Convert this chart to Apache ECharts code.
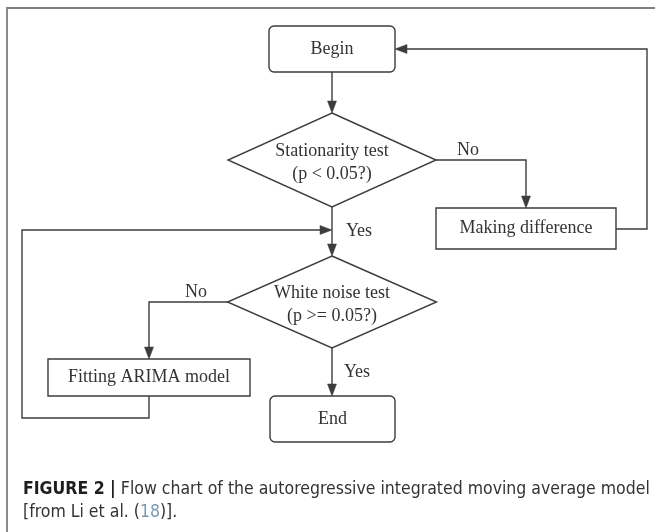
<!DOCTYPE html>
<html>
<head>
<meta charset="utf-8">
<script src="https://cdn.jsdelivr.net/npm/echarts@6/dist/echarts.min.js"></script>
<style>
html, body { margin: 0; padding: 0; background: #fff; }
#flow { width: 655px; height: 532px; }
</style>
</head>
<body>
<div id="flow"></div>
<script>
// nodes of the flow chart (centre x/y and box size in picture units)
const nodeNames = ['Begin', 'Stationarity test\n(p < 0.05?)', 'Making difference',
  'White noise test\n(p >= 0.05?)', 'Fitting ARIMA model', 'End'];
const nodeKind = ['round', 'diamond', 'rect', 'diamond', 'rect', 'round'];
const nodeX = [332, 332, 526, 332, 149, 332.5];
const nodeY = [49, 160, 228.5, 302, 377.5, 419];
const nodeW = [126, 208, 180, 209, 202, 125];
const nodeH = [46, 94, 41, 92, 37, 46];

// connectors, each one a polyline ending in an arrow
const edges = [
  [[332, 72], [332, 113]],
  [[436, 160], [526, 160], [526, 208]],
  [[616, 229], [647, 229], [647, 49], [395, 49]],
  [[332, 207], [332, 256]],
  [[228, 302], [149, 302], [149, 359]],
  [[149, 396], [149, 418], [22, 418], [22, 230], [332, 230]],
  [[332, 348], [332, 396]]
];

// branch labels
const labelText = ['No', 'Yes', 'No', 'Yes'];
const labelX = [468, 359, 196, 357];
const labelY = [150, 231, 292, 372];

const lineColor = '#3c3c3c';
const serif = '"Liberation Serif", "Times New Roman", serif';
const narrow = '"DejaVu Sans Condensed", "Liberation Sans Narrow", "Liberation Sans", sans-serif';

let myChart = echarts.init(document.getElementById('flow'));

const renderNode = (params, api) => {
  const i = params.dataIndex;
  const c = api.coord([nodeX[i], nodeY[i]]);
  const s = api.size([nodeW[i], nodeH[i]]);
  const w = s[0], h = s[1];
  let box;
  let ty = c[1];
  if (nodeKind[i] === 'diamond') {
    box = {
      type: 'polygon',
      shape: { points: [[c[0], c[1] - h / 2], [c[0] + w / 2, c[1]], [c[0], c[1] + h / 2], [c[0] - w / 2, c[1]]] },
      style: { fill: '#fff', stroke: lineColor, lineWidth: 1.4 }
    };
    ty = c[1] + 3;
  } else {
    box = {
      type: 'rect',
      shape: { x: c[0] - w / 2, y: c[1] - h / 2, width: w, height: h, r: nodeKind[i] === 'round' ? 5 : 0 },
      style: { fill: '#fff', stroke: lineColor, lineWidth: 1.4 }
    };
  }
  return {
    type: 'group',
    children: [box, {
      type: 'text',
      style: {
        text: nodeNames[i], x: c[0], y: ty, align: 'center', verticalAlign: 'middle',
        fontFamily: serif, fontSize: 18, lineHeight: 23, fill: '#333'
      }
    }]
  };
};

const renderEdge = (params, api) => {
  const pts = edges[params.dataIndex].map(p => api.coord(p));
  const n = pts.length;
  const a = pts[n - 2], b = pts[n - 1];
  const len = Math.hypot(b[0] - a[0], b[1] - a[1]);
  const ux = (b[0] - a[0]) / len, uy = (b[1] - a[1]) / len;
  const al = 12, aw = 4.5;
  const base = [b[0] - ux * al, b[1] - uy * al];
  return {
    type: 'group',
    children: [{
      type: 'polyline',
      shape: { points: pts.slice(0, n - 1).concat([base]) },
      style: { stroke: lineColor, lineWidth: 1.4, fill: null }
    }, {
      type: 'polygon',
      shape: { points: [b, [base[0] - uy * aw, base[1] + ux * aw], [base[0] + uy * aw, base[1] - ux * aw]] },
      style: { fill: lineColor, stroke: lineColor, lineWidth: 0.5 }
    }]
  };
};

const renderLabel = (params, api) => {
  const i = params.dataIndex;
  const c = api.coord([labelX[i], labelY[i]]);
  return {
    type: 'text',
    style: {
      text: labelText[i], x: c[0], y: c[1], align: 'center', verticalAlign: 'middle',
      fontFamily: serif, fontSize: 18, fill: '#333'
    }
  };
};

let option = {
  animation: false,
  grid: { left: 0, right: 0, top: 0, bottom: 0 },
  xAxis: { type: 'value', min: 0, max: 655, show: false },
  yAxis: { type: 'value', min: 0, max: 532, inverse: true, show: false },
  graphic: [
    {
      type: 'rect',
      shape: { x: 7, y: 8, width: 700, height: 600 },
      style: { fill: null, stroke: '#808080', lineWidth: 1.8 },
      silent: true
    },
    {
      type: 'text',
      left: 23,
      top: 478,
      style: {
        text: '{b|FIGURE 2 |} Flow chart of the autoregressive integrated moving average model\n[from Li et al. ({l|18})].',
        fontFamily: narrow,
        fontSize: 17.5,
        lineHeight: 23,
        fill: '#333',
        rich: {
          b: { fontWeight: 'bold', fill: '#1e1e1e', fontSize: 17.5, fontFamily: narrow },
          l: { fill: '#7a96b4', fontSize: 17.5, fontFamily: narrow }
        }
      }
    }
  ],
  series: [
    {
      type: 'custom',
      name: 'edges',
      renderItem: renderEdge,
      data: edges.map(e => e[0]),
      z: 1
    },
    {
      type: 'custom',
      name: 'nodes',
      renderItem: renderNode,
      data: nodeX.map((x, i) => [x, nodeY[i]]),
      z: 2
    },
    {
      type: 'custom',
      name: 'labels',
      renderItem: renderLabel,
      data: labelX.map((x, i) => [x, labelY[i]]),
      z: 3
    }
  ]
};
option && myChart.setOption(option);
</script>
</body>
</html>
